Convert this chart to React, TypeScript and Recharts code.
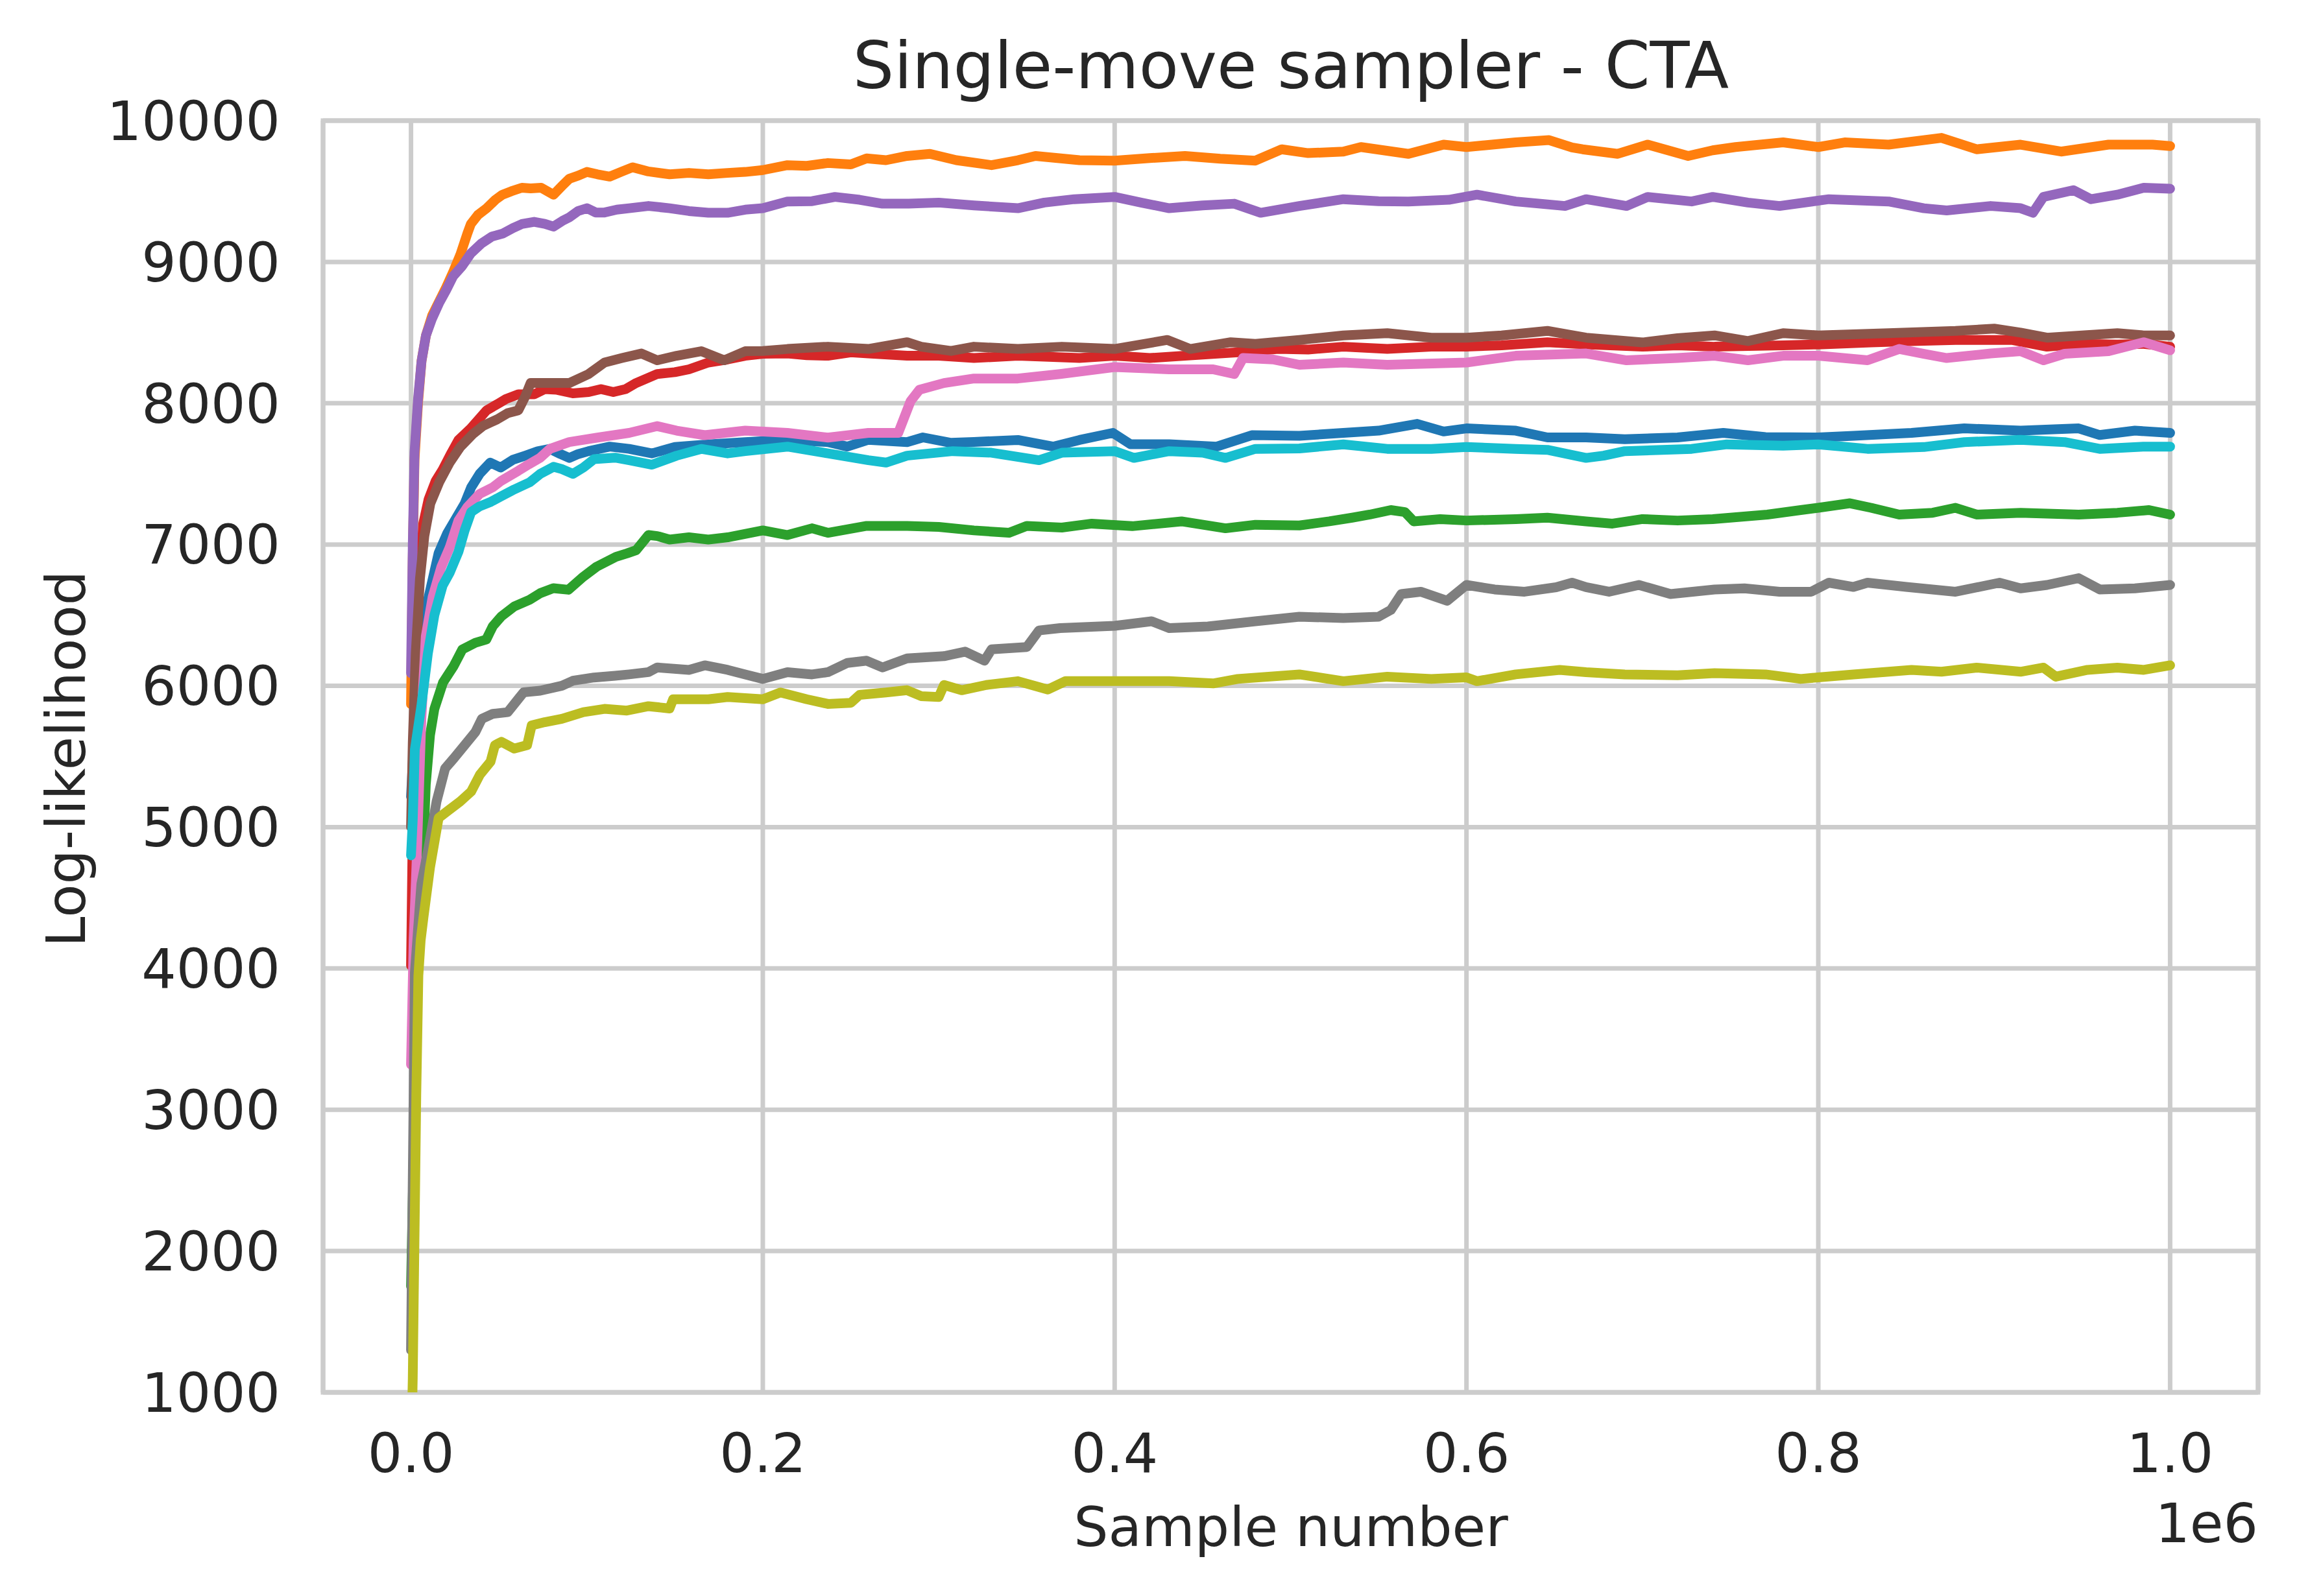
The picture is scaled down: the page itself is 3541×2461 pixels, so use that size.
import React from 'react';
import { LineChart, Line, XAxis, YAxis, CartesianGrid, ReferenceArea } from 'recharts';

// x in thousands of samples, y = log-likelihood
const blue: number[][] = [[0,5215],[2,5700],[5,6250],[8.4,6540],[15.7,6940],[20.6,7080],[30.5,7290],[34.2,7405],[39,7500],[45,7580],[51,7545],[58,7600],[65,7629],[72,7660],[79,7677],[85,7640],[90,7613],[95,7640],[101,7661],[113,7693],[124,7677],[137,7645],[150,7690],[169,7709],[190,7725],[214,7741],[237,7725],[248,7693],[260,7741],[282,7725],[291,7758],[307,7720],[320,7726],[345,7740],[365,7693],[380,7740],[399,7790],[409,7710],[431,7710],[458,7693],[478,7774],[505,7770],[530,7790],[550,7806],[572,7854],[587,7800],[600,7822],[628,7806],[646,7758],[668,7758],[690,7745],[720,7758],[746,7790],[770,7760],[800,7758],[820,7770],[853,7790],[883,7822],[915,7806],[948,7822],[960,7775],[980,7806],[1000,7790]];
const orange: number[][] = [[0,5870],[1,6900],[2,7600],[4,8000],[6,8300],[8.5,8480],[12,8620],[16,8720],[20,8820],[24,8930],[28,9050],[32,9200],[34,9268],[38,9332],[43,9380],[48,9440],[52,9476],[57,9500],[63,9525],[68,9520],[74,9525],[81,9476],[86,9540],[90,9589],[95,9610],[100,9637],[106,9620],[113,9604],[120,9640],[126,9670],[135,9640],[147,9620],[158,9630],[169,9620],[180,9630],[190,9637],[200,9650],[214,9685],[225,9680],[237,9700],[250,9690],[259,9733],[270,9720],[282,9750],[295,9765],[310,9720],[330,9685],[345,9720],[355,9750],[380,9720],[400,9717],[420,9735],[440,9750],[460,9730],[480,9717],[495,9797],[510,9770],[530,9781],[540,9813],[567,9765],[587,9830],[600,9813],[628,9846],[647,9862],[660,9810],[666,9797],[686,9765],[703,9830],[726,9750],[740,9790],[753,9813],[780,9846],[800,9813],[815,9846],[840,9830],[870,9878],[890,9797],[915,9830],[938,9781],[965,9830],[990,9830],[1000,9820]];
const green: number[][] = [[0,1750],[2,3000],[4,4000],[7,4830],[8.4,5300],[10.8,5650],[13.3,5837],[18.2,6024],[24.3,6141],[29.2,6258],[36.6,6305],[42.8,6328],[46.5,6422],[51.4,6492],[58.7,6562],[67.4,6609],[73.5,6656],[80.9,6691],[89.5,6680],[98,6773],[105.5,6843],[116.5,6913],[122.7,6937],[128,6960],[135,7067],[140,7060],[147,7035],[158,7051],[169,7035],[180,7051],[200,7100],[214,7067],[228,7115],[237,7083],[259,7132],[282,7132],[300,7125],[320,7100],[340,7083],[350,7132],[370,7120],[387,7148],[410,7130],[438,7164],[463,7115],[480,7140],[505,7135],[522,7164],[535,7190],[545,7212],[557,7244],[565,7230],[570,7164],[585,7180],[600,7170],[628,7180],[646,7190],[668,7164],[683,7148],[700,7180],[720,7170],[740,7180],[771,7212],[790,7244],[800,7260],[818,7292],[830,7260],[846,7212],[865,7225],[878,7260],[890,7212],[915,7225],[948,7212],[970,7225],[988,7244],[1000,7212]];
const red: number[][] = [[0,4020],[1,5000],[2.5,6000],[4.5,6700],[7,7150],[10,7320],[14,7450],[18,7530],[23,7650],[27,7740],[34,7822],[43,7950],[50,8000],[54,8030],[61,8063],[70,8063],[76,8100],[83,8095],[92,8070],[101,8079],[108,8100],[115,8079],[122,8100],[128,8143],[140,8207],[150,8220],[158,8240],[169,8288],[180,8310],[190,8336],[200,8350],[214,8352],[225,8340],[237,8336],[250,8360],[260,8352],[282,8336],[300,8336],[320,8320],[345,8336],[380,8320],[400,8336],[420,8320],[440,8336],[470,8360],[493,8384],[510,8380],[530,8400],[555,8384],[580,8400],[600,8400],[620,8410],[646,8432],[668,8416],[700,8400],[720,8410],[741,8400],[780,8410],[800,8416],[830,8430],[853,8440],[878,8448],[910,8448],[930,8400],[950,8420],[970,8416],[985,8420],[1000,8400]];
const purple: number[][] = [[0,6090],[1,7000],[2,7650],[4,8030],[6,8300],[8.5,8480],[12,8600],[16,8710],[20,8800],[24,8900],[29,8970],[34,9060],[40,9130],[46,9180],[52,9200],[58,9240],[63,9268],[70,9284],[76,9270],[81,9250],[86,9290],[90,9316],[95,9360],[100,9380],[105,9350],[110,9350],[117,9370],[124,9380],[135,9396],[147,9380],[158,9360],[169,9348],[180,9348],[190,9370],[200,9380],[214,9428],[228,9430],[241,9460],[255,9440],[268,9412],[283,9412],[300,9420],[320,9400],[345,9380],[360,9420],[377,9444],[400,9460],[415,9420],[431,9380],[450,9400],[468,9412],[483,9348],[505,9396],[530,9444],[550,9430],[567,9428],[590,9440],[606,9476],[628,9428],[656,9396],[668,9444],[691,9396],[703,9460],[728,9428],[740,9460],[760,9420],[778,9396],[806,9444],[840,9428],[860,9380],[873,9364],[898,9396],[915,9380],[922,9348],[928,9460],[945,9508],[955,9444],[970,9476],[985,9525],[1000,9518]];
const brown: number[][] = [[0,5000],[1,5600],[2.7,6230],[5.1,6760],[7.6,7060],[11,7290],[16,7440],[22,7580],[28,7690],[35,7780],[41,7840],[49,7886],[55,7930],[61,7950],[65,8050],[68,8143],[79,8143],[90,8143],[101,8207],[110,8288],[120,8320],[131,8352],[140,8304],[151,8336],[165,8368],[178,8304],[190,8368],[200,8370],[214,8384],[237,8400],[260,8384],[282,8432],[290,8400],[307,8370],[320,8400],[345,8384],[370,8400],[400,8384],[430,8448],[443,8384],[466,8432],[480,8420],[505,8448],[530,8480],[555,8496],[580,8464],[600,8464],[620,8480],[646,8512],[668,8464],[700,8430],[720,8460],[741,8480],[760,8440],[780,8496],[800,8480],[840,8496],[878,8512],[900,8528],[915,8500],[930,8464],[950,8480],[970,8496],[985,8480],[1000,8480]];
const pink: number[][] = [[0,3320],[1.5,4200],[3.4,4830],[5.9,5770],[8.4,6350],[12.3,6630],[17.2,6840],[22,6980],[27,7170],[32,7264],[39,7358],[46.5,7405],[51.4,7452],[61,7522],[67,7568],[73.5,7615],[79,7677],[90,7725],[106,7757],[124,7790],[140,7838],[151,7806],[167,7774],[190,7806],[214,7790],[237,7757],[260,7790],[277,7790],[284,8015],[289,8095],[303,8143],[320,8175],[345,8175],[369,8207],[400,8256],[431,8240],[456,8240],[468,8207],[473,8320],[490,8310],[505,8272],[530,8288],[555,8272],[600,8288],[628,8336],[668,8352],[691,8304],[720,8320],[741,8336],[760,8304],[780,8336],[800,8336],[828,8304],[846,8384],[860,8350],[873,8320],[898,8352],[915,8368],[928,8304],[940,8350],[965,8368],[985,8432],[1000,8375]];
const gray: number[][] = [[0,1300],[2.2,3970],[5.9,4600],[9.6,4830],[14.5,5180],[19.4,5416],[24.3,5486],[30.5,5580],[36.6,5673],[40.3,5767],[46.5,5802],[55,5814],[61,5907],[64,5954],[73.5,5966],[85.8,6001],[92,6036],[104,6059],[116,6071],[124,6081],[135,6097],[140,6130],[158,6113],[167,6145],[180,6113],[190,6081],[200,6049],[214,6097],[228,6081],[237,6097],[248,6162],[259,6178],[268,6130],[282,6194],[303,6210],[315,6242],[326,6178],[330,6258],[350,6274],[357,6392],[369,6409],[400,6425],[421,6457],[431,6409],[453,6420],[480,6457],[505,6489],[530,6480],[550,6489],[557,6537],[563,6650],[574,6666],[589,6602],[600,6714],[616,6682],[633,6666],[651,6698],[660,6730],[668,6698],[681,6666],[698,6714],[716,6650],[741,6682],[758,6690],[778,6666],[796,6666],[806,6730],[820,6700],[828,6730],[850,6700],[878,6666],[903,6730],[915,6690],[930,6714],[948,6762],[960,6682],[980,6690],[1000,6714]];
const olive: number[][] = [[0,500],[1,1100],[2,2100],[3,3100],[4.2,3950],[5.5,4200],[7.1,4363],[10.8,4714],[15.7,5065],[20.6,5112],[28,5182],[34.2,5252],[39.1,5370],[45.2,5463],[47.7,5580],[51.4,5604],[58.7,5556],[66,5580],[68.6,5720],[76,5743],[85.8,5767],[98,5814],[110,5837],[122.7,5825],[135,5856],[147,5840],[149,5905],[169,5905],[180,5921],[200,5905],[210,5953],[225,5905],[237,5872],[250,5880],[255,5936],[270,5953],[282,5969],[290,5927],[300,5921],[303,6006],[313,5969],[327,6006],[345,6033],[362,5974],[372,6033],[400,6033],[431,6033],[456,6017],[470,6049],[505,6081],[530,6033],[555,6065],[580,6049],[600,6060],[606,6033],[628,6081],[653,6113],[668,6097],[690,6081],[720,6075],[741,6090],[770,6081],[790,6049],[800,6060],[820,6081],[853,6113],[870,6100],[890,6129],[915,6100],[928,6129],[935,6065],[953,6113],[970,6129],[985,6113],[1000,6145]];
const cyan: number[][] = [[0,4800],[1,5050],[2.2,5550],[5.9,5860],[9.6,6230],[13.3,6500],[18,6710],[22,6800],[27,6950],[30.5,7100],[34.2,7230],[39,7270],[45,7300],[51,7340],[58.7,7390],[67.4,7440],[73.5,7500],[81,7550],[86,7533],[92,7500],[98,7545],[104,7604],[116,7615],[124,7597],[137,7565],[151,7629],[165,7677],[180,7645],[190,7661],[214,7693],[237,7645],[260,7597],[270,7580],[282,7629],[308,7661],[330,7650],[357,7597],[370,7650],[400,7661],[411,7613],[431,7661],[450,7650],[463,7613],[480,7677],[505,7680],[530,7709],[555,7677],[580,7677],[600,7690],[628,7677],[646,7670],[668,7613],[678,7629],[690,7661],[728,7677],[748,7709],[780,7700],[800,7709],[828,7677],[860,7690],[883,7725],[915,7741],[940,7725],[960,7677],[985,7693],[1000,7693]];

const seriesList = [
  { name: 'run0', color: '#1f77b4', points: blue },
  { name: 'run1', color: '#ff7f0e', points: orange },
  { name: 'run2', color: '#2ca02c', points: green },
  { name: 'run3', color: '#d62728', points: red },
  { name: 'run4', color: '#9467bd', points: purple },
  { name: 'run5', color: '#8c564b', points: brown },
  { name: 'run6', color: '#e377c2', points: pink },
  { name: 'run7', color: '#7f7f7f', points: gray },
  { name: 'run8', color: '#bcbd22', points: olive },
  { name: 'run9', color: '#17becf', points: cyan },
];

const xTicks = [0, 200, 400, 600, 800, 1000];
const yTicks = [1000, 2000, 3000, 4000, 5000, 6000, 7000, 8000, 9000, 10000];

const FONT = '"DejaVu Sans", sans-serif';
const TEXT = '#262626';
const GRID = '#cccccc';

export default function App() {
  const W = 3541;
  const H = 2461;
  return (
    <div style={{ position: 'absolute', left: 0, top: 0, width: W, height: H, background: '#fff' }}>
      <LineChart width={W} height={H} margin={{ top: 186, right: 60, bottom: 194, left: 378 }}>
        <CartesianGrid stroke={GRID} strokeWidth={7} />
        <XAxis
          type="number"
          dataKey="x"
          domain={[-50, 1050]}
          allowDataOverflow
          ticks={xTicks}
          tickFormatter={(v: number) => (v / 1000).toFixed(1)}
          height={120}
          tickSize={0}
          tickMargin={63}
          axisLine={false}
          tickLine={false}
          tick={{ fontSize: 84, fill: TEXT, fontFamily: FONT }}
        />
        <YAxis
          type="number"
          domain={[1000, 10000]}
          allowDataOverflow
          ticks={yTicks}
          width={120}
          tickSize={0}
          tickMargin={66}
          axisLine={false}
          tickLine={false}
          tick={{ fontSize: 84, fill: TEXT, fontFamily: FONT }}
        />
        {seriesList.map((s) => (
          <Line
            key={s.name}
            name={s.name}
            data={s.points.map(([x, y]) => ({ x, y }))}
            dataKey="y"
            type="linear"
            stroke={s.color}
            strokeWidth={15}
            strokeLinejoin="round"
            strokeLinecap="round"
            dot={false}
            activeDot={false}
            isAnimationActive={false}
          />
        ))}
        <ReferenceArea
          x1={-50}
          x2={1050}
          y1={1000}
          y2={10000}
          fill="none"
          fillOpacity={0}
          stroke={GRID}
          strokeWidth={7}
          ifOverflow="visible"
        />
        <text x={1990} y={136} textAnchor="middle" fontSize={100} fill={TEXT} fontFamily={FONT}>
          Single-move sampler - CTA
        </text>
        <text x={1990} y={2384} textAnchor="middle" fontSize={84} fill={TEXT} fontFamily={FONT}>
          Sample number
        </text>
        <text x={3481} y={2378} textAnchor="end" fontSize={84} fill={TEXT} fontFamily={FONT}>
          1e6
        </text>
        <text
          x={131}
          y={1170}
          textAnchor="middle"
          fontSize={84}
          fill={TEXT}
          fontFamily={FONT}
          transform="rotate(-90 131 1170)"
        >
          Log-likelihood
        </text>
      </LineChart>
    </div>
  );
}
